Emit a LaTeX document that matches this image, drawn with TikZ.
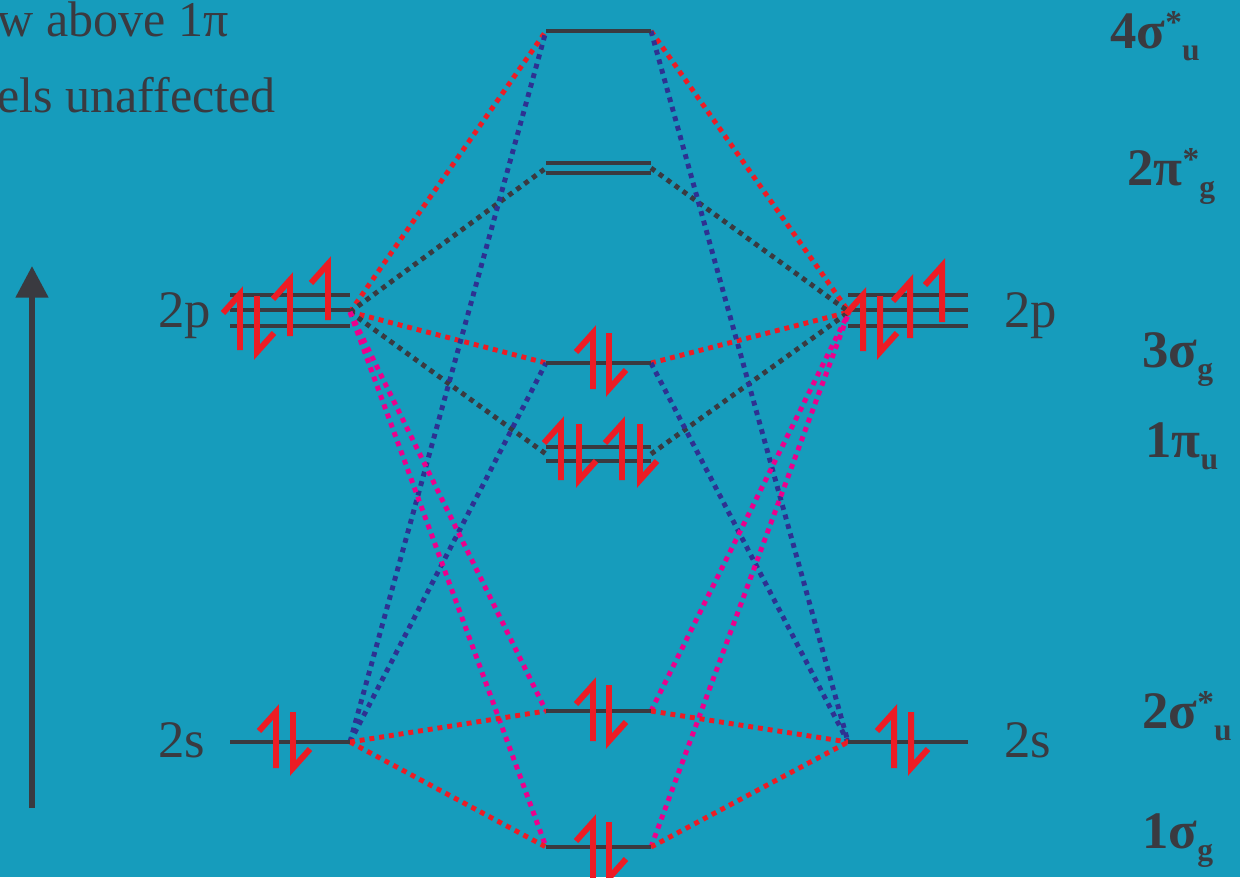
\documentclass[tikz,border=0pt]{standalone}
\usepackage{fontspec}
\setmainfont{Liberation Serif}
\usetikzlibrary{arrows.meta}

\definecolor{bg}{RGB}{22,156,188}
\definecolor{ink}{RGB}{58,58,64}
\definecolor{spin}{RGB}{237,28,36}
\definecolor{navy}{RGB}{46,49,146}
\definecolor{pink}{RGB}{236,0,140}

\tikzset{
  level/.style={draw=ink, line width=2.8pt},
  elec/.style={draw=spin, line width=3.4pt},
  link/.style={line width=2.8pt, dash pattern=on 2.8pt off 2.8pt},
  atom/.style={text=ink, font=\fontsize{30}{34}\selectfont, anchor=base west, inner sep=0pt},
  note/.style={atom, font=\fontsize{28.5}{32}\selectfont},
  mo/.style={text=ink, font=\bfseries\fontsize{30}{34}\selectfont, anchor=base west, inner sep=0pt},
}

% half arrows for the electrons
\newcommand{\spinup}[2]{\draw[elec] (#1,#2) ++(0,28) -- ++(0,-56) -- ++(-17,19);}
\newcommand{\spindn}[2]{\draw[elec] (#1,#2) ++(0,-28) -- ++(0,56) -- ++(17,-19);}
\newcommand{\moname}[3]{#1\raisebox{8pt}{\fontsize{19}{20}\selectfont #2}\raisebox{-7pt}{\fontsize{18}{20}\selectfont #3}}

\begin{document}
\begin{tikzpicture}[x=0.02cm, y=-0.02cm]
    \fill[bg] (0,0) rectangle (1240,877);
    \useasboundingbox (0,0) rectangle (1240,877);

    % ends of the levels
    \coordinate (L2p) at (350,312);
    \coordinate (L2s) at (350,742);
    \coordinate (R2p) at (849,312);
    \coordinate (R2s) at (848,742);
    \coordinate (s4a) at (546,31);  \coordinate (s4b) at (651,31);
    \coordinate (p2a) at (546,168); \coordinate (p2b) at (651,168);
    \coordinate (s3a) at (546,363); \coordinate (s3b) at (651,363);
    \coordinate (p1a) at (546,454); \coordinate (p1b) at (651,454);
    \coordinate (s2a) at (546,711); \coordinate (s2b) at (651,711);
    \coordinate (s1a) at (546,847); \coordinate (s1b) at (651,847);

    % correlation lines
    \draw[link, draw=spin] (L2p) -- (s4a) (s4b) -- (R2p);
    \draw[link, draw=spin] (L2p) -- (s3a) (s3b) -- (R2p);
    \draw[link, draw=ink] (L2p) -- (p2a) (p2b) -- (R2p);
    \draw[link, draw=ink] (L2p) -- (p1a) (p1b) -- (R2p);
    \draw[link, draw=navy] (L2s) -- (s4a) (s4b) -- (R2s);
    \draw[link, draw=navy] (L2s) -- (s3a) (s3b) -- (R2s);
    \draw[link, draw=pink] (L2p) -- (s2a) (s2b) -- (R2p);
    \draw[link, draw=pink] (L2p) -- (s1a) (s1b) -- (R2p);
    \draw[link, draw=spin] (L2s) -- (s2a) (s2b) -- (R2s);
    \draw[link, draw=spin] (L2s) -- (s1a) (s1b) -- (R2s);

    % atomic levels
    \draw[level] (230,295) -- (350,295) (230,310) -- (350,310) (230,326) -- (350,326);
    \draw[level] (230,742) -- (L2s);
    \draw[level] (848,295) -- (968,295) (848,310) -- (968,310) (848,326) -- (968,326);
    \draw[level] (R2s) -- (968,742);

    % molecular levels
    \draw[level] (s4a) -- (s4b);
    \draw[level] (546,163) -- (651,163) (546,173) -- (651,173);
    \draw[level] (s3a) -- (s3b);
    \draw[level] (546,447) -- (651,447) (546,461) -- (651,461);
    \draw[level] (s2a) -- (s2b);
    \draw[level] (s1a) -- (s1b);

    % electrons
    \spinup{240}{322} \spindn{257}{324} \spinup{290}{308} \spinup{328}{292}
    \spinup{276}{740} \spindn{293}{740}
    \spinup{863}{323} \spindn{880}{324} \spinup{910}{310} \spinup{942}{294}
    \spinup{894}{740} \spindn{911}{740}
    \spinup{593}{361} \spindn{609}{361}
    \spinup{561}{452} \spindn{579}{452} \spinup{622}{452} \spindn{640}{452}
    \spinup{593}{713} \spindn{609}{713}
    \spinup{593}{850} \spindn{609}{850}

    % energy axis
    \coordinate (ebot) at (32,808);
    \coordinate (etop) at (32,266);
    \draw[draw=ink, line width=3.4pt, -{Triangle[width=18pt, length=18pt]}] (ebot) -- (etop);

    % texts
    \node[note] (txt1) at (-3,36) {w above 1π};
    \node[note] (txt2) at (-3,112) {els unaffected};
    \node[atom] (lp) at (158,327) {2p};
    \node[atom] (ls) at (158,757) {2s};
    \node[atom] (rp) at (1004,327) {2p};
    \node[atom] (rs) at (1004,757) {2s};

    \node[mo] (m4s) at (1110,48) {\moname{4σ}{*}{u}};
    \node[mo] (m2p) at (1127,185) {\moname{2π}{*}{g}};
    \node[mo] (m3s) at (1142,367) {\moname{3σ}{}{g}};
    \node[mo] (m1p) at (1145,457) {\moname{1π}{}{u}};
    \node[mo] (m2s) at (1142,728) {\moname{2σ}{*}{u}};
    \node[mo] (m1s) at (1142,848) {\moname{1σ}{}{g}};
\end{tikzpicture}
\end{document}
